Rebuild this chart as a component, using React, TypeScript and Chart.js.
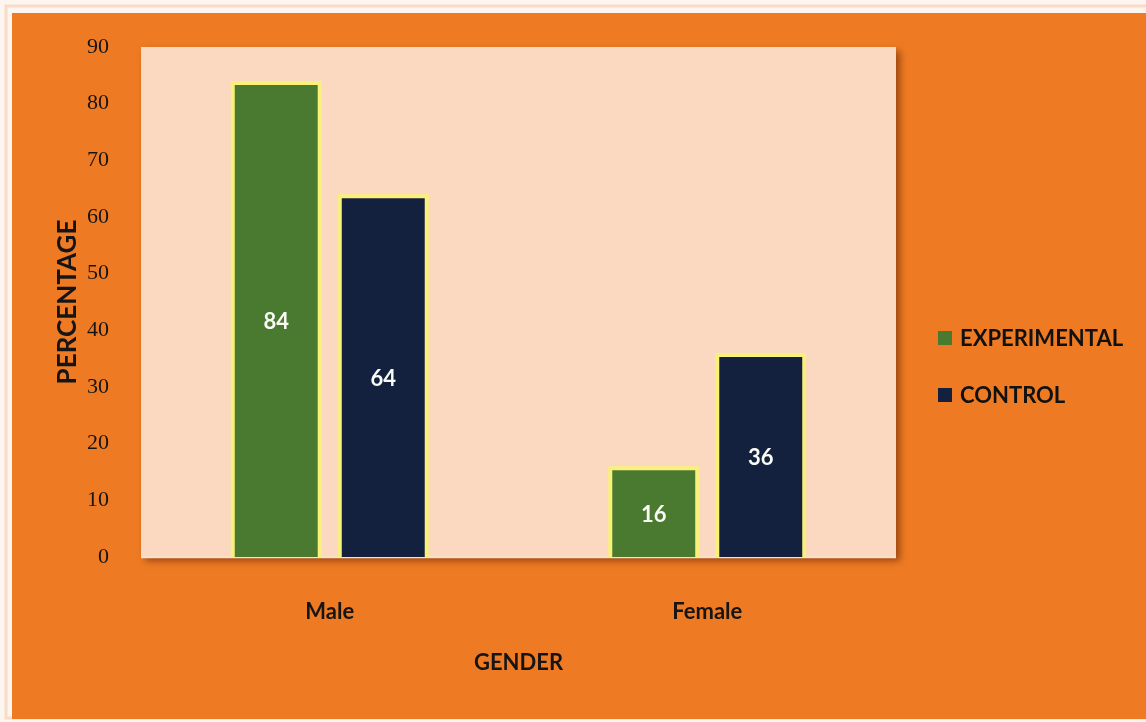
import React, { useEffect, useRef } from "react";
import { Chart, registerables } from "chart.js";

Chart.register(...registerables);

const categories = ["Male", "Female"];
const experimental = [84, 16];
const control = [64, 36];
const seriesNames = ["EXPERIMENTAL", "CONTROL"];
const yTicksMax = 90;
const yTickStep = 10;
const xTitle = "GENDER";
const yTitle = "PERCENTAGE";

const ORANGE = "#ee7b24";
const PEACH = "#fbd9c0";
const GREEN = "#4a7a2f";
const NAVY = "#13213f";
const YELLOW = "#f8ef7e";
const SANS = "Lato, 'Open Sans', sans-serif";
const SERIF = "'Liberation Serif', 'DejaVu Serif', serif";

const backgroundPlugin = {
  id: "bgPlugin",
  beforeDraw(chart: any) {
    const { ctx, width, height, chartArea } = chart;
    ctx.save();
    ctx.fillStyle = "#fdf5ef";
    ctx.fillRect(0, 0, width, height);
    ctx.strokeStyle = "#f8dcc8";
    ctx.lineWidth = 3;
    ctx.strokeRect(6, 6, width + 10, height - 10);
    ctx.fillStyle = ORANGE;
    ctx.fillRect(12, 13, width - 12, 706);
    ctx.shadowColor = "rgba(90,30,0,0.55)";
    ctx.shadowBlur = 7;
    ctx.shadowOffsetX = 4;
    ctx.shadowOffsetY = 4;
    ctx.fillStyle = PEACH;
    ctx.fillRect(chartArea.left, chartArea.top, chartArea.right - chartArea.left, chartArea.bottom - chartArea.top);
    ctx.restore();
    ctx.save();
    ctx.strokeStyle = "rgba(255,240,230,0.9)";
    ctx.lineWidth = 1.5;
    ctx.beginPath();
    ctx.moveTo(chartArea.left, chartArea.bottom + 0.5);
    ctx.lineTo(chartArea.right, chartArea.bottom + 0.5);
    ctx.stroke();
    ctx.restore();
  },
  beforeDatasetsDraw(chart: any) {
    const ctx = chart.ctx;
    ctx.save();
    ctx.shadowColor = "rgba(255,245,110,1)";
    ctx.shadowBlur = 5;
  },
  afterDatasetsDraw(chart: any) {
    chart.ctx.restore();
  },
};

const labelsPlugin = {
  id: "valueLabels",
  afterDatasetsDraw(chart: any) {
    const { ctx } = chart;
    ctx.save();
    ctx.fillStyle = "#fbfbf7";
    ctx.font = `bold 22px ${SANS}`;
    ctx.textAlign = "center";
    ctx.textBaseline = "middle";
    chart.data.datasets.forEach((ds: any, i: number) => {
      const meta = chart.getDatasetMeta(i);
      meta.data.forEach((bar: any, j: number) => {
        const y = (bar.y + bar.base) / 2 + 3;
        ctx.fillText(String(ds.data[j]), bar.x, y);
      });
    });
    ctx.restore();
  },
};

const legendPlugin = {
  id: "customLegend",
  afterDraw(chart: any) {
    const { ctx, chartArea } = chart;
    ctx.save();
    ctx.font = `bold 22px ${SANS}`;
    ctx.textBaseline = "middle";
    ctx.textAlign = "left";
    const x0 = chartArea.right + 42;
    const yStart = 338;
    const gap = 57;
    chart.data.datasets.forEach((ds: any, i: number) => {
      const y = yStart + i * gap;
      ctx.fillStyle = ds.backgroundColor;
      ctx.fillRect(x0, y - 7, 14, 14);
      ctx.fillStyle = "#111111";
      ctx.fillText(ds.label, x0 + 22, y + 1);
    });
    ctx.restore();
  },
};

export default function App() {
  const ref = useRef<HTMLCanvasElement | null>(null);
  useEffect(() => {
    if (!ref.current) return;
    const chart = new Chart(ref.current, {
      type: "bar",
      data: {
        labels: categories,
        datasets: [
          {
            label: seriesNames[0],
            data: experimental,
            backgroundColor: GREEN,
            borderColor: YELLOW,
            borderWidth: 4,
            borderSkipped: "bottom",
            categoryPercentage: 0.567,
            barPercentage: 0.85,
          },
          {
            label: seriesNames[1],
            data: control,
            backgroundColor: NAVY,
            borderColor: YELLOW,
            borderWidth: 4,
            borderSkipped: "bottom",
            categoryPercentage: 0.567,
            barPercentage: 0.85,
          },
        ],
      },
      options: {
        responsive: false,
        animation: false,
        devicePixelRatio: 1,
        layout: { padding: { left: 50, top: 47, right: 250, bottom: 30 } },
        plugins: {
          legend: { display: false },
          tooltip: { enabled: false },
        },
        scales: {
          x: {
            grid: { display: false },
            border: { display: false },
            ticks: { padding: 34, color: "#151515", font: { family: SANS, size: 22, weight: "bold" } },
            title: {
              display: true,
              text: xTitle,
              color: "#151515",
              font: { family: SANS, size: 22, weight: "bold" },
              padding: { top: 0, bottom: 16 },
            },
            afterFit(scale: any) {
              scale.height = 135;
            },
          },
          y: {
            min: 0,
            max: yTicksMax,
            grid: { display: false },
            border: { display: false },
            ticks: { stepSize: yTickStep, padding: 24, color: "#151515", font: { family: SERIF, size: 22 } },
            title: {
              display: true,
              text: yTitle,
              color: "#151515",
              font: { family: SANS, size: 26, weight: "bold" },
              padding: { top: 2, bottom: 0 },
            },
            afterFit(scale: any) {
              scale.width = 91;
            },
          },
        },
      },
      plugins: [backgroundPlugin, labelsPlugin, legendPlugin],
    } as any);
    return () => chart.destroy();
  }, []);
  return (
    <div style={{ position: "absolute", left: 0, top: 0, width: 1146, height: 722 }}>
      <canvas ref={ref} width={1146} height={722} style={{ display: "block", width: 1146, height: 722 }} />
    </div>
  );
}
